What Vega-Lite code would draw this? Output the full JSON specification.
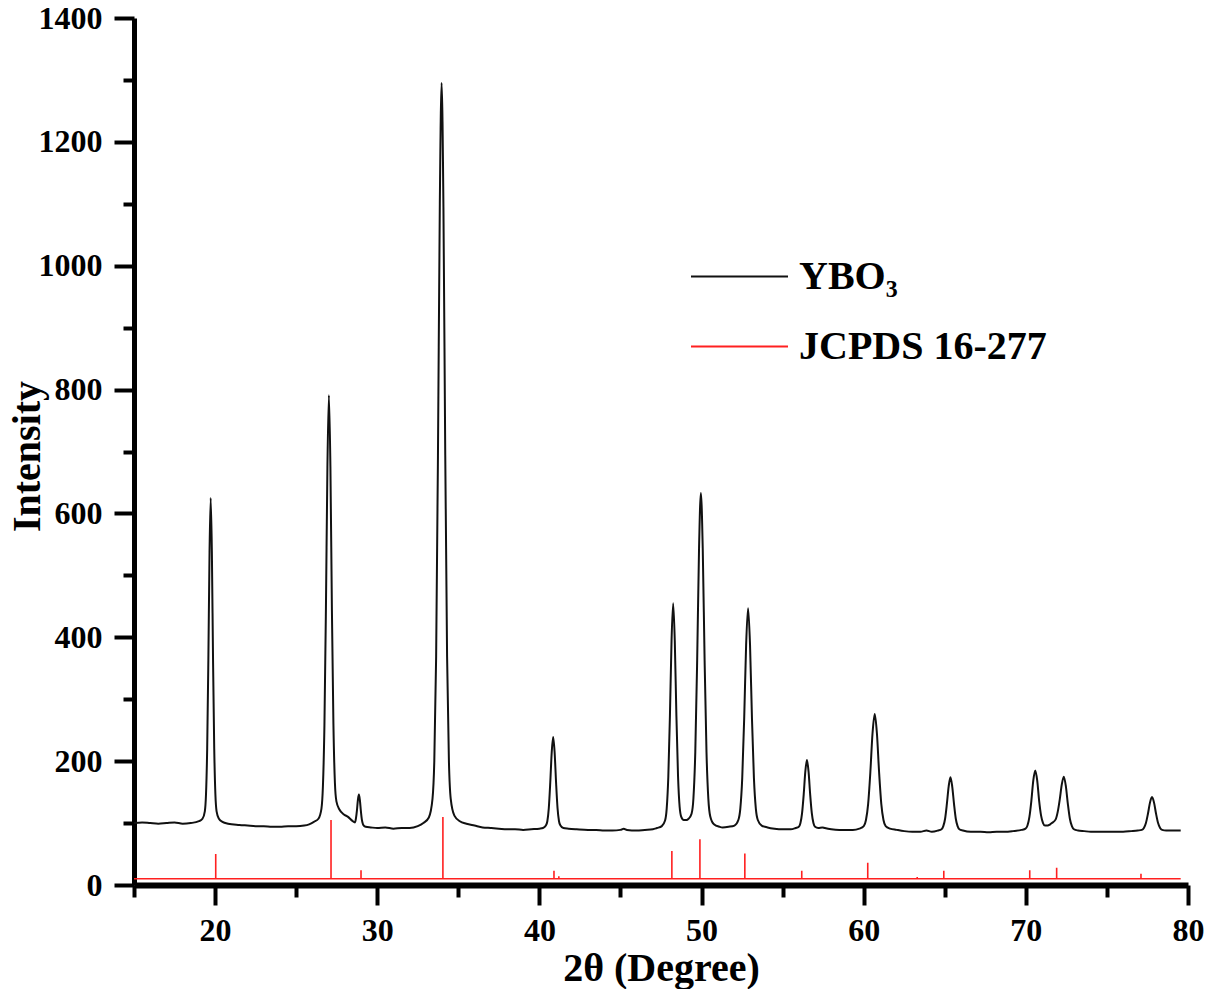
{
  "$schema": "https://vega.github.io/schema/vega-lite/v6.json",
  "width": 1054,
  "height": 867,
  "autosize": {"type": "none"},
  "padding": {"left": 134, "top": 18, "right": 26, "bottom": 104},
  "background": "white",
  "config": {
    "view": {"stroke": null},
    "font": "Liberation Serif",
    "axis": {
      "grid": false,
      "domainColor": "black",
      "tickColor": "black",
      "tickWidth": 4,
      "labelFont": "Liberation Serif",
      "labelFontSize": 32,
      "labelFontWeight": "bold",
      "labelColor": "black",
      "titleFont": "Liberation Serif",
      "titleFontSize": 40,
      "titleFontWeight": "bold",
      "titleColor": "black"
    }
  },
  "datasets": {
    "xrd": [
      {"x": 15, "y": 100}, {"x": 15.5, "y": 101}, {"x": 16, "y": 100}, {"x": 16.5, "y": 99}, {"x": 17, "y": 100}, {"x": 17.5, "y": 101}, {"x": 18, "y": 99}, {"x": 18.5, "y": 100},
      {"x": 19.005, "y": 103}, {"x": 19.223, "y": 107}, {"x": 19.368, "y": 119}, {"x": 19.44, "y": 146}, {"x": 19.513, "y": 220}, {"x": 19.585, "y": 362}, {"x": 19.658, "y": 537}, {"x": 19.73, "y": 625}, {"x": 19.803, "y": 537}, {"x": 19.875, "y": 362}, {"x": 19.948, "y": 220}, {"x": 20.02, "y": 146}, {"x": 20.093, "y": 119}, {"x": 20.238, "y": 107}, {"x": 20.455, "y": 102},
      {"x": 20.8, "y": 99}, {"x": 21.5, "y": 97}, {"x": 22, "y": 96}, {"x": 22.5, "y": 95}, {"x": 23, "y": 95}, {"x": 23.5, "y": 94}, {"x": 24, "y": 94}, {"x": 24.5, "y": 95}, {"x": 25, "y": 95}, {"x": 25.5, "y": 96}, {"x": 25.8, "y": 98},
      {"x": 26.095, "y": 102}, {"x": 26.373, "y": 107}, {"x": 26.558, "y": 123}, {"x": 26.65, "y": 159}, {"x": 26.743, "y": 257}, {"x": 26.835, "y": 444}, {"x": 26.928, "y": 675}, {"x": 27.02, "y": 791}, {"x": 27.113, "y": 675}, {"x": 27.205, "y": 444}, {"x": 27.298, "y": 260}, {"x": 27.39, "y": 165}, {"x": 27.483, "y": 135}, {"x": 27.668, "y": 122}, {"x": 27.945, "y": 114}, {"x": 28.2, "y": 110}, {"x": 28.45, "y": 104}, {"x": 28.63, "y": 101},
      {"x": 28.69, "y": 108}, {"x": 28.75, "y": 121}, {"x": 28.81, "y": 138}, {"x": 28.87, "y": 146}, {"x": 28.93, "y": 137}, {"x": 28.99, "y": 120}, {"x": 29.05, "y": 106}, {"x": 29.11, "y": 99}, {"x": 29.17, "y": 96}, {"x": 29.29, "y": 94},
      {"x": 29.6, "y": 93}, {"x": 30, "y": 92}, {"x": 30.5, "y": 93}, {"x": 31, "y": 91}, {"x": 31.5, "y": 92}, {"x": 32, "y": 92}, {"x": 32.5, "y": 95},
      {"x": 32.845, "y": 100}, {"x": 33.183, "y": 109}, {"x": 33.408, "y": 139}, {"x": 33.52, "y": 201}, {"x": 33.633, "y": 369}, {"x": 33.745, "y": 694}, {"x": 33.858, "y": 1094}, {"x": 33.97, "y": 1295}, {"x": 34.083, "y": 1094}, {"x": 34.195, "y": 694}, {"x": 34.308, "y": 369}, {"x": 34.42, "y": 201}, {"x": 34.533, "y": 139}, {"x": 34.758, "y": 112}, {"x": 35.095, "y": 103},
      {"x": 35.5, "y": 99}, {"x": 36, "y": 96}, {"x": 36.5, "y": 93}, {"x": 37, "y": 92}, {"x": 37.5, "y": 91}, {"x": 38, "y": 90}, {"x": 38.5, "y": 90}, {"x": 39, "y": 89}, {"x": 39.5, "y": 90}, {"x": 40, "y": 91},
      {"x": 40.22, "y": 92}, {"x": 40.4, "y": 96}, {"x": 40.49, "y": 103}, {"x": 40.58, "y": 124}, {"x": 40.67, "y": 165}, {"x": 40.76, "y": 214}, {"x": 40.85, "y": 239}, {"x": 40.94, "y": 214}, {"x": 41.03, "y": 165}, {"x": 41.12, "y": 124}, {"x": 41.21, "y": 103}, {"x": 41.3, "y": 96}, {"x": 41.48, "y": 92},
      {"x": 41.8, "y": 91}, {"x": 42.3, "y": 90}, {"x": 43, "y": 89}, {"x": 43.5, "y": 89}, {"x": 44, "y": 88}, {"x": 44.5, "y": 88}, {"x": 45, "y": 89}, {"x": 45.2, "y": 91}, {"x": 45.4, "y": 89}, {"x": 46, "y": 88}, {"x": 46.5, "y": 89}, {"x": 47, "y": 90},
      {"x": 47.25, "y": 92}, {"x": 47.55, "y": 95}, {"x": 47.75, "y": 104}, {"x": 47.85, "y": 123}, {"x": 47.95, "y": 174}, {"x": 48.05, "y": 273}, {"x": 48.15, "y": 394}, {"x": 48.25, "y": 455}, {"x": 48.35, "y": 394}, {"x": 48.45, "y": 273}, {"x": 48.55, "y": 176}, {"x": 48.65, "y": 126}, {"x": 48.75, "y": 110}, {"x": 48.9, "y": 105}, {"x": 49.07, "y": 105},
      {"x": 49.2, "y": 107}, {"x": 49.385, "y": 115}, {"x": 49.5, "y": 140}, {"x": 49.615, "y": 215}, {"x": 49.73, "y": 362}, {"x": 49.845, "y": 542}, {"x": 49.96, "y": 633}, {"x": 50.075, "y": 542}, {"x": 50.19, "y": 362}, {"x": 50.305, "y": 215}, {"x": 50.42, "y": 139}, {"x": 50.535, "y": 111}, {"x": 50.765, "y": 98}, {"x": 51.11, "y": 94}, {"x": 51.3, "y": 93},
      {"x": 51.67, "y": 94}, {"x": 52.03, "y": 96}, {"x": 52.27, "y": 105}, {"x": 52.39, "y": 123}, {"x": 52.51, "y": 173}, {"x": 52.63, "y": 269}, {"x": 52.75, "y": 388}, {"x": 52.87, "y": 447}, {"x": 52.99, "y": 388}, {"x": 53.11, "y": 269}, {"x": 53.23, "y": 173}, {"x": 53.35, "y": 123}, {"x": 53.47, "y": 105}, {"x": 53.71, "y": 96}, {"x": 54.07, "y": 93},
      {"x": 54.5, "y": 91}, {"x": 55, "y": 90}, {"x": 55.5, "y": 90},
      {"x": 55.8, "y": 92}, {"x": 56.0, "y": 94}, {"x": 56.1, "y": 100}, {"x": 56.2, "y": 116}, {"x": 56.3, "y": 146}, {"x": 56.4, "y": 183}, {"x": 56.5, "y": 202}, {"x": 56.6, "y": 183}, {"x": 56.7, "y": 146}, {"x": 56.8, "y": 116}, {"x": 56.9, "y": 100}, {"x": 57.0, "y": 94}, {"x": 57.2, "y": 92},
      {"x": 57.45, "y": 93}, {"x": 57.6, "y": 92}, {"x": 58, "y": 90}, {"x": 58.5, "y": 89}, {"x": 59, "y": 89},
      {"x": 59.33, "y": 89}, {"x": 59.735, "y": 91}, {"x": 60.005, "y": 95}, {"x": 60.14, "y": 105}, {"x": 60.275, "y": 131}, {"x": 60.41, "y": 182}, {"x": 60.545, "y": 245}, {"x": 60.68, "y": 276}, {"x": 60.815, "y": 245}, {"x": 60.95, "y": 182}, {"x": 61.085, "y": 131}, {"x": 61.22, "y": 105}, {"x": 61.355, "y": 95}, {"x": 61.625, "y": 91}, {"x": 62.03, "y": 89},
      {"x": 62.5, "y": 87}, {"x": 63, "y": 86}, {"x": 63.5, "y": 86}, {"x": 63.87, "y": 88}, {"x": 64.2, "y": 86},
      {"x": 64.58, "y": 88}, {"x": 64.8, "y": 90}, {"x": 64.91, "y": 95}, {"x": 65.02, "y": 107}, {"x": 65.13, "y": 131}, {"x": 65.24, "y": 159}, {"x": 65.35, "y": 174}, {"x": 65.46, "y": 159}, {"x": 65.57, "y": 131}, {"x": 65.68, "y": 107}, {"x": 65.79, "y": 95}, {"x": 65.9, "y": 90}, {"x": 66.12, "y": 88},
      {"x": 66.6, "y": 86}, {"x": 67.2, "y": 86}, {"x": 67.7, "y": 85}, {"x": 68.2, "y": 86}, {"x": 68.7, "y": 86}, {"x": 69.2, "y": 87},
      {"x": 69.74, "y": 89}, {"x": 69.98, "y": 91}, {"x": 70.1, "y": 96}, {"x": 70.22, "y": 110}, {"x": 70.34, "y": 136}, {"x": 70.46, "y": 169}, {"x": 70.58, "y": 185}, {"x": 70.7, "y": 169}, {"x": 70.82, "y": 136}, {"x": 70.94, "y": 112}, {"x": 71.06, "y": 100}, {"x": 71.18, "y": 96}, {"x": 71.35, "y": 96}, {"x": 71.5, "y": 98},
      {"x": 71.6, "y": 100}, {"x": 71.84, "y": 106}, {"x": 71.965, "y": 118}, {"x": 72.09, "y": 138}, {"x": 72.215, "y": 162}, {"x": 72.34, "y": 175}, {"x": 72.465, "y": 160}, {"x": 72.59, "y": 131}, {"x": 72.715, "y": 107}, {"x": 72.84, "y": 95}, {"x": 72.965, "y": 90}, {"x": 73.215, "y": 88},
      {"x": 73.6, "y": 87}, {"x": 74, "y": 86}, {"x": 74.5, "y": 86}, {"x": 75, "y": 86}, {"x": 75.5, "y": 86}, {"x": 76, "y": 86}, {"x": 76.5, "y": 87},
      {"x": 76.905, "y": 88}, {"x": 77.155, "y": 89}, {"x": 77.28, "y": 92}, {"x": 77.405, "y": 100}, {"x": 77.53, "y": 115}, {"x": 77.655, "y": 133}, {"x": 77.78, "y": 142}, {"x": 77.905, "y": 133}, {"x": 78.03, "y": 115}, {"x": 78.155, "y": 100}, {"x": 78.28, "y": 92}, {"x": 78.405, "y": 89}, {"x": 78.655, "y": 88},
      {"x": 79, "y": 88}, {"x": 79.3, "y": 88}, {"x": 79.55, "y": 88}
    ],
    "ref": [
      {"i": 0, "x": 15, "y": 10},
      {"i": 1, "x": 20.04, "y": 10}, {"i": 2, "x": 20.04, "y": 50}, {"i": 3, "x": 20.04, "y": 10},
      {"i": 4, "x": 27.15, "y": 10}, {"i": 5, "x": 27.15, "y": 105}, {"i": 6, "x": 27.15, "y": 10},
      {"i": 7, "x": 29.0, "y": 10}, {"i": 8, "x": 29.0, "y": 24}, {"i": 9, "x": 29.0, "y": 10},
      {"i": 10, "x": 34.05, "y": 10}, {"i": 11, "x": 34.05, "y": 110}, {"i": 12, "x": 34.05, "y": 10},
      {"i": 13, "x": 40.9, "y": 10}, {"i": 14, "x": 40.9, "y": 23}, {"i": 15, "x": 40.9, "y": 10},
      {"i": 16, "x": 41.2, "y": 10}, {"i": 17, "x": 41.2, "y": 14}, {"i": 18, "x": 41.2, "y": 10},
      {"i": 19, "x": 48.17, "y": 10}, {"i": 20, "x": 48.17, "y": 55}, {"i": 21, "x": 48.17, "y": 10},
      {"i": 22, "x": 49.9, "y": 10}, {"i": 23, "x": 49.9, "y": 74}, {"i": 24, "x": 49.9, "y": 10},
      {"i": 25, "x": 52.67, "y": 10}, {"i": 26, "x": 52.67, "y": 51}, {"i": 27, "x": 52.67, "y": 10},
      {"i": 28, "x": 56.18, "y": 10}, {"i": 29, "x": 56.18, "y": 23}, {"i": 30, "x": 56.18, "y": 10},
      {"i": 31, "x": 60.25, "y": 10}, {"i": 32, "x": 60.25, "y": 36}, {"i": 33, "x": 60.25, "y": 10},
      {"i": 34, "x": 63.3, "y": 10}, {"i": 35, "x": 63.3, "y": 13}, {"i": 36, "x": 63.3, "y": 10},
      {"i": 37, "x": 64.94, "y": 10}, {"i": 38, "x": 64.94, "y": 23}, {"i": 39, "x": 64.94, "y": 10},
      {"i": 40, "x": 70.24, "y": 10}, {"i": 41, "x": 70.24, "y": 24}, {"i": 42, "x": 70.24, "y": 10},
      {"i": 43, "x": 71.9, "y": 10}, {"i": 44, "x": 71.9, "y": 28}, {"i": 45, "x": 71.9, "y": 10},
      {"i": 46, "x": 77.1, "y": 10}, {"i": 47, "x": 77.1, "y": 18}, {"i": 48, "x": 77.1, "y": 10},
      {"i": 49, "x": 79.55, "y": 10}
    ]
  },
  "layer": [
    {
      "data": {"name": "ref"},
      "mark": {"type": "line", "strokeWidth": 1.6},
      "encoding": {
        "x": {"field": "x", "type": "quantitative"},
        "y": {"field": "y", "type": "quantitative"},
        "order": {"field": "i", "type": "quantitative"},
        "color": {"datum": "JCPDS 16-277", "type": "nominal"}
      }
    },
    {
      "data": {"name": "xrd"},
      "mark": {"type": "line", "strokeWidth": 2, "interpolate": "monotone"},
      "encoding": {
        "x": {
          "field": "x", "type": "quantitative",
          "scale": {"domain": [15, 80], "nice": false, "zero": false},
          "axis": {
            "title": "2θ (Degree)",
            "values": [15, 20, 25, 30, 35, 40, 45, 50, 55, 60, 65, 70, 75, 80],
            "labelExpr": "datum.value % 10 === 0 ? datum.label : ''",
            "tickSize": {"condition": {"test": "datum.value % 10 === 0", "value": 20}, "value": 12},
            "domainWidth": 6,
            "labelPadding": 10,
            "labelFlush": false,
            "titlePadding": 2
          }
        },
        "y": {
          "field": "y", "type": "quantitative",
          "scale": {"domain": [0, 1400], "nice": false},
          "axis": {
            "title": "Intensity",
            "values": [0, 100, 200, 300, 400, 500, 600, 700, 800, 900, 1000, 1100, 1200, 1300, 1400],
            "labelExpr": "datum.value % 200 === 0 ? datum.label : ''",
            "format": "d",
            "tickSize": {"condition": {"test": "datum.value % 200 === 0", "value": 20}, "value": 11},
            "domainWidth": 5,
            "labelPadding": 12,
            "labelFlush": false,
            "titleAngle": -90,
            "titleX": -95,
            "titleY": 438,
            "titleAlign": "center",
            "titleBaseline": "alphabetic"
          }
        },
        "color": {
          "datum": "YBO₃", "type": "nominal",
          "scale": {"domain": ["YBO₃", "JCPDS 16-277"], "range": ["#111111", "#ff2020"]},
          "legend": {
            "orient": "none",
            "legendX": 556,
            "legendY": 209,
            "title": null,
            "padding": 0,
            "symbolType": "stroke",
            "symbolSize": 9409,
            "symbolStrokeWidth": 2,
            "labelFont": "Liberation Serif",
            "labelFontSize": 40,
            "labelFontWeight": "bold",
            "labelColor": "black",
            "labelOffset": 10,
            "labelLimit": 500,
            "rowPadding": -28
          }
        }
      }
    }
  ]
}
